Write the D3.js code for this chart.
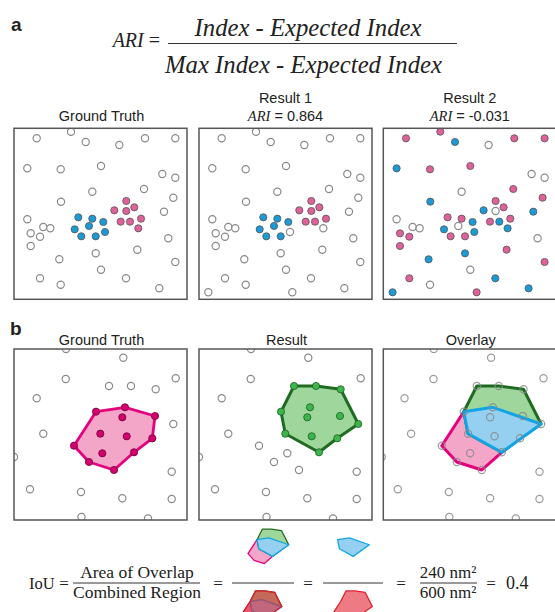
<!DOCTYPE html>
<html lang="en">
<head>
<meta charset="UTF-8">
<title>ARI and IoU</title>
<script src="https://d3js.org/d3.v7.min.js"></script>
<style>
  body { margin: 0; background: #fff; }
  .serif { font-family: "Liberation Serif", "Times New Roman", serif; fill: #222; }
  .sans { font-family: "Liberation Sans", Arial, sans-serif; fill: #222; }
</style>
</head>
<body>
<div id="chart"></div>
<script>
const width = 555, height = 612;

// ---- panel a: one point cloud, three labelings (w = none, b = blue, p = pink, - = not shown)
const ptsA = [
  [57,3.4],[22.7,10],[71.7,13.7],[105.3,16.7],[131,10],[161.3,10],[13.3,40],[46.7,41],[87,37.7],[148.3,45.7],
  [161.3,49.4],[78.3,63.4],[130,60.7],[159.3,69.4],[47,73.4],[150,83.4],[13.3,91],[29.3,98.7],[36.3,100],[16.7,105],
  [26,108.4],[154.3,110],[16.7,117.7],[123.3,121.4],[81.7,125],[45.3,131],[161.3,133.7],[87,141.4],[26,150],[112,150],
  [46.7,156.4],[145.3,160],
  [64.3,89],[78.3,90.4],[89.3,93.7],[75,97.7],[60.7,101],[91,103.7],[67.3,108],[81.7,108],
  [112.3,72.7],[120.3,79],[100.3,82],[112.3,82.7],[127,90.4],[106.7,93.4],[116,93.4],[124.3,100],
  [9.3,164],[93.3,164]
];
const labelsTruth = ("w".repeat(32) + "bbbbbbbb" + "pppppppp" + "--").split("");
const labelsResult1 = ("w".repeat(32) + "bbbbbwbb" + "pppppppw" + "ww").split("");
const labelsResult2 = ("ppbwppbppw" + "wwppbbwwwp" + "pwppbbpwpb" + "wb" + "ppbwbbpp" + "ppbwppbb" + "bp").split("");

const panelA = [
  { title: "Ground Truth", ari: null, labels: labelsTruth },
  { title: "Result 1", ari: "0.864", labels: labelsResult1 },
  { title: "Result 2", ari: "-0.031", labels: labelsResult2 }
];

// ---- panel b: points, and regions as point indices
const ptsB = [
  [52,0],[109.3,8.7],[51.7,30],[161.7,29.3],[95,37],[117,37],[141.7,40.3],[22.7,49.3],[159.3,75],[29.3,84.7],
  [0,108],[157.7,122.7],[16,140.3],[67,143],[108.3,149.3],[157.7,150],[67.5,168],[134,169.5],
  [82,62.7],[111,58.3],[141,67],[138.3,89.3],[120,103.3],[100,121],[75,113],[60,96.7],
  [108.3,68.3],[86.3,84.7],[112.7,87.3],[88.3,104.3]
];
const truthRegion = [18,19,20,21,22,23,24,25];
const truthMembers = [18,19,20,21,22,23,24,25,26,27,28,29];
const resultRegion = [4,5,6,8,21,22,27,18];
const resultMembers = [4,5,6,8,21,22,27,18,19,20,26,28];
const overlapRegion = [18,19,8,22,27];
const combinedRegion = [4,5,6,8,21,22,23,24,25,18];

const boxX = [14, 199, 383.3], boxW = 173, boxH = 171;
const boxYa = 128.3, boxYb = 349;

const colors = {
  blue: "#1b9ad6", pink: "#e0609a",
  truthFill: "#f4a6c9", truthStroke: "#e5007e", truthDot: "#d4006e",
  resFill: "#9fd69b", resStroke: "#1f6b21", resDot: "#3db54a",
  ovFill: "#95d0f0", ovStroke: "#10a5e6",
  redFill: "#ee7a84", redStroke: "#e0202e"
};

const svg = d3.select("#chart").append("svg")
  .attr("width", width).attr("height", height);

const defs = svg.append("defs");

function makeScales(x0, y0, k) {
  return {
    x: d3.scaleLinear().domain([0, boxW]).range([x0, x0 + boxW * k]),
    y: d3.scaleLinear().domain([0, boxH]).range([y0, y0 + boxH * k])
  };
}

function panelBox(x0, y0, id) {
  defs.append("clipPath").attr("id", id)
    .append("rect").attr("x", x0).attr("y", y0).attr("width", boxW).attr("height", boxH);
  const g = svg.append("g");
  const inner = g.append("g").attr("clip-path", `url(#${id})`);
  g.append("rect").attr("x", x0).attr("y", y0).attr("width", boxW).attr("height", boxH)
    .attr("fill", "none").attr("stroke", "#555").attr("stroke-width", 1.5);
  return inner;
}

function poly(g, s, idx, fill, stroke, sw, op) {
  const line = d3.line().x(i => s.x(ptsB[i][0])).y(i => s.y(ptsB[i][1])).curve(d3.curveLinearClosed);
  g.append("path").attr("d", line(idx))
    .attr("fill", fill).attr("fill-opacity", op == null ? 1 : op)
    .attr("stroke", stroke).attr("stroke-width", sw).attr("stroke-linejoin", "round");
}

// ---- labels and top formula
svg.append("text").attr("class", "sans").attr("x", 11).attr("y", 31)
  .attr("font-size", 19).attr("font-weight", "bold").text("a");
svg.append("text").attr("class", "sans").attr("x", 10).attr("y", 335)
  .attr("font-size", 19).attr("font-weight", "bold").text("b");

const ariLbl = svg.append("text").attr("class", "serif").attr("x", 160).attr("y", 47)
  .attr("font-size", 20).attr("text-anchor", "end");
ariLbl.append("tspan").attr("font-style", "italic").text("ARI");
ariLbl.append("tspan").text(" =");
svg.append("text").attr("class", "serif").attr("x", 308).attr("y", 36)
  .attr("font-size", 24.7).attr("font-style", "italic").attr("text-anchor", "middle")
  .text("Index - Expected Index");
svg.append("line").attr("x1", 168).attr("x2", 457).attr("y1", 43.5).attr("y2", 43.5)
  .attr("stroke", "#333").attr("stroke-width", 1);
svg.append("text").attr("class", "serif").attr("x", 303.5).attr("y", 73.3)
  .attr("font-size", 24.7).attr("font-style", "italic").attr("text-anchor", "middle")
  .text("Max Index - Expected Index");

// ---- panel a
panelA.forEach((p, k) => {
  const cx = boxX[k] + boxW / 2;
  if (p.ari == null) {
    svg.append("text").attr("class", "sans").attr("x", cx + 1).attr("y", 121)
      .attr("font-size", 14.5).attr("text-anchor", "middle").text(p.title);
  } else {
    svg.append("text").attr("class", "sans").attr("x", cx).attr("y", 103)
      .attr("font-size", 14.5).attr("text-anchor", "middle").text(p.title);
    const t = svg.append("text").attr("class", "sans").attr("x", cx).attr("y", 121)
      .attr("font-size", 14.5).attr("text-anchor", "middle");
    t.append("tspan").attr("font-family", "'Liberation Serif', serif").attr("font-style", "italic").text("ARI");
    t.append("tspan").text(" = " + p.ari);
  }
  const s = makeScales(boxX[k], boxYa, 1);
  const g = panelBox(boxX[k], boxYa, "clipA" + k);
  g.selectAll("circle")
    .data(ptsA.map((d, i) => ({ x: d[0], y: d[1], c: p.labels[i] })).filter(d => d.c !== "-"))
    .join("circle")
    .attr("cx", d => s.x(d.x)).attr("cy", d => s.y(d.y)).attr("r", 3.6)
    .attr("fill", d => d.c === "b" ? colors.blue : d.c === "p" ? colors.pink : "#fff")
    .attr("stroke", d => d.c === "w" ? "#8a8a8a" : "#555")
    .attr("stroke-width", d => d.c === "w" ? 1.2 : 0.8);
});

// ---- panel b
const titlesB = ["Ground Truth", "Result", "Overlay"];
titlesB.forEach((t, k) => {
  svg.append("text").attr("class", "sans").attr("x", boxX[k] + boxW / 2 + 1).attr("y", 345)
    .attr("font-size", 14.5).attr("text-anchor", "middle").text(t);
});

function dotsB(g, s, members, dot, dotStroke) {
  g.selectAll("circle.pt")
    .data(ptsB.map((d, i) => ({ x: d[0], y: d[1], m: members && members.includes(i) })))
    .join("circle").attr("class", "pt")
    .attr("cx", d => s.x(d.x)).attr("cy", d => s.y(d.y)).attr("r", 3.6)
    .attr("fill", d => d.m ? dot : (members ? "#fff" : "none"))
    .attr("stroke", d => d.m ? dotStroke : "#8a8a8a")
    .attr("stroke-opacity", members ? 1 : 0.85)
    .attr("stroke-width", d => d.m ? 0.8 : 1.2);
}

{
  const s = makeScales(boxX[0], boxYb, 1);
  const g = panelBox(boxX[0], boxYb, "clipB0");
  poly(g, s, truthRegion, colors.truthFill, colors.truthStroke, 2.8);
  dotsB(g, s, truthMembers, colors.truthDot, "#6b0037");
}
{
  const s = makeScales(boxX[1], boxYb, 1);
  const g = panelBox(boxX[1], boxYb, "clipB1");
  poly(g, s, resultRegion, colors.resFill, colors.resStroke, 3);
  dotsB(g, s, resultMembers, colors.resDot, "#1d5e22");
}
{
  const s = makeScales(boxX[2] - 1.5, boxYb, 1);
  const g = panelBox(boxX[2], boxYb, "clipB2");
  poly(g, s, truthRegion, colors.truthFill, colors.truthStroke, 3);
  poly(g, s, resultRegion, colors.resFill, colors.resStroke, 3);
  poly(g, s, overlapRegion, colors.ovFill, colors.ovStroke, 3);
  dotsB(g, s, null);
}

// ---- IoU formula
function serifText(x, y, txt, anchor, size) {
  return svg.append("text").attr("class", "serif").attr("x", x).attr("y", y)
    .attr("font-size", size || 17).attr("text-anchor", anchor || "start").text(txt);
}
function bar(x1, x2, y) {
  svg.append("line").attr("x1", x1).attr("x2", x2).attr("y1", y).attr("y2", y)
    .attr("stroke", "#333").attr("stroke-width", 1);
}
const barY = 583;
serifText(29, 589, "IoU", "start", 16.5);
serifText(64, 589, "=", "middle");
serifText(137, 578, "Area of Overlap", "middle", 17.5);
bar(73, 200, barY);
serifText(137, 598, "Combined Region", "middle", 17.5);
serifText(218, 589, "=", "middle");
bar(232, 294, barY);
serifText(308, 589, "=", "middle");
bar(323, 383, barY);
serifText(401, 589, "=", "middle");
serifText(448, 578, "240 nm²", "middle");
bar(420, 477, barY);
serifText(448, 598, "600 nm²", "middle");
serifText(491, 589, "=", "middle");
serifText(506, 589, "0.4", "start", 18);

const k = 0.41;
{
  const s = makeScales(223.4, 514, k);
  const g = svg.append("g");
  poly(g, s, truthRegion, colors.truthFill, colors.truthStroke, 1.3);
  poly(g, s, resultRegion, colors.resFill, colors.resStroke, 1.3);
  poly(g, s, overlapRegion, colors.ovFill, colors.ovStroke, 1.3);
}
{
  const s = makeScales(304, 514, k);
  poly(svg.append("g"), s, overlapRegion, colors.ovFill, colors.ovStroke, 1.3);
}
{
  const s = makeScales(216.5, 575.8, k);
  const g = svg.append("g");
  poly(g, s, truthRegion, colors.truthFill, colors.truthStroke, 1.3);
  poly(g, s, resultRegion, colors.resFill, colors.resStroke, 1.3);
  poly(g, s, overlapRegion, colors.ovFill, colors.ovStroke, 1.3);
  poly(g, s, combinedRegion, "#e0202e", colors.redStroke, 1.3, 0.6);
}
{
  const s = makeScales(307, 575.8, k);
  poly(svg.append("g"), s, combinedRegion, colors.redFill, colors.redStroke, 1.3);
}
</script>
</body>
</html>
